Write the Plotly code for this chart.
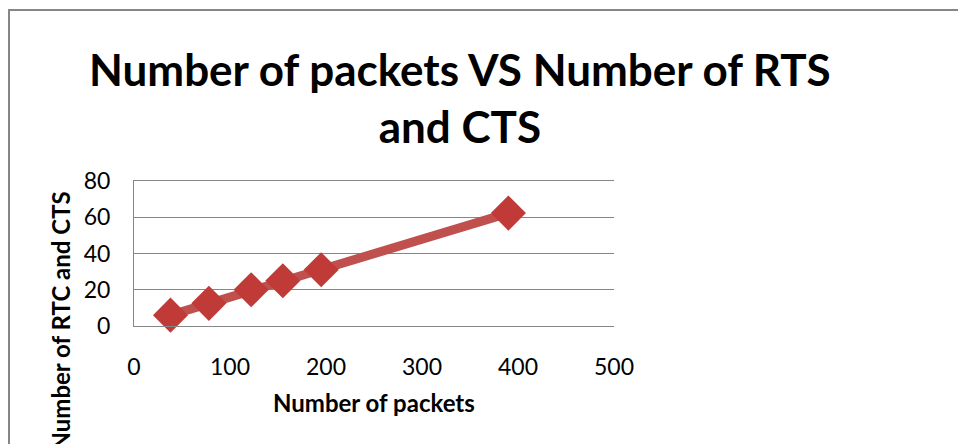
import plotly.graph_objects as go

packets = [38, 78, 122, 155, 195, 390]
rts_cts = [6, 12.5, 20, 25, 31, 62.3]
x_ticks = [0, 100, 200, 300, 400, 500]
y_ticks = [0, 20, 40, 60, 80]

title_text = "Number of packets VS Number of RTS<br>and CTS"
x_title = "Number of packets"
y_title = "Number of RTC and CTS"

W, H = 958, 444
L, R, T, B = 134, 614, 181, 326  # plot area pixel bounds


def px(xp):
    return (xp - L) / (R - L)


def py(yp):
    return (B - yp) / (B - T)


FONT = "Lato"
RED = "#C0504D"
GRAY = "#868686"

fig = go.Figure()
fig.add_trace(go.Scatter(
    x=packets, y=rts_cts, mode="lines+markers",
    line=dict(color=RED, width=9),
    marker=dict(symbol="diamond", size=27, color="#C03A37",
                line=dict(width=0)),
    hoverinfo="x+y", showlegend=False, cliponaxis=False,
))

fig.update_layout(
    width=W, height=H, autosize=False,
    margin=dict(l=L, r=W - R, t=T, b=H - B, pad=0),
    paper_bgcolor="white", plot_bgcolor="white",
    font=dict(family=FONT, color="black"),
    xaxis=dict(range=[0, 500], tickvals=x_ticks, showgrid=False,
               zeroline=False, showline=True, linecolor=GRAY, linewidth=1,
               mirror=True, ticks="",
               tickfont=dict(size=23, family=FONT), ticklabelstandoff=20),
    yaxis=dict(range=[0, 80], tickvals=y_ticks, showgrid=True,
               gridcolor=GRAY, gridwidth=1, zeroline=False,
               showline=True, linecolor=GRAY, linewidth=1, ticks="",
               tickfont=dict(size=23, family=FONT), ticklabelstandoff=18),
    shapes=[dict(type="path", xref="paper", yref="paper",
                 path=f"M {px(9)} {py(460)} L {px(9)} {py(10)} L {px(980)} {py(10)}",
                 line=dict(color=GRAY, width=2))],
    annotations=[
        dict(text=f"<b>{title_text}</b>", xref="paper", yref="paper",
             x=px(460), y=py(41), xanchor="center", yanchor="top",
             showarrow=False, font=dict(size=44, family=FONT, color="black")),
        dict(text=f"<b>{x_title}</b>", xref="paper", yref="paper",
             x=px(374), y=py(402), xanchor="center", yanchor="middle",
             showarrow=False, font=dict(size=24, family=FONT, color="black")),
        dict(text=f"<b>{y_title}</b>", xref="paper", yref="paper",
             x=px(60), y=py(190), xanchor="center", yanchor="top",
             textangle=-90, showarrow=False,
             font=dict(size=24, family=FONT, color="black")),
    ],
)

fig.write_html("out.html")
